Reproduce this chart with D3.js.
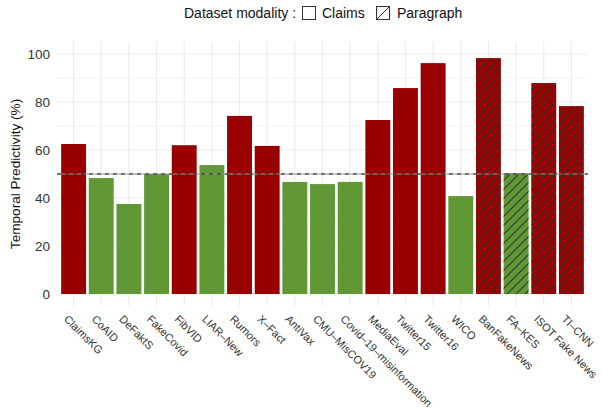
<!DOCTYPE html>
<html>
<head>
<meta charset="utf-8">
<script src="https://cdn.jsdelivr.net/npm/d3@7"></script>
<style>
  body { margin: 0; background: #fff; }
  text { font-family: "Liberation Sans", Arial, sans-serif; }
</style>
</head>
<body>
<div id="chart"></div>
<script>
// data
let datasets = ["ClaimsKG", "CoAID", "DeFaktS", "FakeCovid", "FibVID", "LIAR\u2013New", "Rumors", "X\u2013Fact",
    "AntiVax", "CMU\u2013MisCOV19", "Covid\u201319\u2013misinformation", "MediaEval", "Twitter15", "Twitter16",
    "WICO", "BanFakeNews", "FA\u2013KES", "ISOT Fake News", "TI\u2013CNN"];
let predictivity = [62.5, 48.3, 37.5, 50, 62, 53.7, 74.2, 61.7, 46.7, 45.8, 46.7, 72.5, 85.8, 96.2,
    40.8, 98.3, 50.3, 87.9, 78.3];
let aboveChance = [true, false, false, false, true, false, true, true, false, false, false, true, true, true,
    false, true, false, true, true];
let modality = ["Claims", "Claims", "Claims", "Claims", "Claims", "Claims", "Claims", "Claims", "Claims", "Claims",
    "Claims", "Claims", "Claims", "Claims", "Claims", "Paragraph", "Paragraph", "Paragraph", "Paragraph"];
let yTicks = [0, 20, 40, 60, 80, 100];
let yMinor = [10, 30, 50, 70, 90];
let chanceLevel = 50;

let width = 602, height = 411;
let margin = {top: 42, right: 14, bottom: 105, left: 57};

let data = datasets.map(function(d, i){
    return {name: d, value: predictivity[i], above: aboveChance[i], modality: modality[i]};
});

let svg = d3.select("#chart").append("svg")
    .attr("width", width)
    .attr("height", height);

// hatch pattern for the paragraph datasets
let defs = svg.append("defs");
defs.append("pattern")
    .attr("id", "hatch")
    .attr("patternUnits", "userSpaceOnUse")
    .attr("width", 9).attr("height", 9)
    .append("path")
    .attr("d", "M-1,1 l2,-2 M0,9 l9,-9 M8,10 l2,-2")
    .attr("stroke", "#333")
    .attr("stroke-width", 1.1);

let x = d3.scaleBand()
    .domain(datasets)
    .range([margin.left, width - margin.right])
    .paddingInner(0.1)
    .paddingOuter(0.15);

let y = d3.scaleLinear()
    .domain([-5, 105])
    .range([height - margin.bottom, margin.top]);

let color = function(d){ return d.above ? "#990000" : "#5f9834"; };

// grid
let grid = svg.append("g");
grid.selectAll(".minor").data(yMinor).enter().append("line")
    .attr("x1", margin.left).attr("x2", width - margin.right)
    .attr("y1", function(d){ return y(d); }).attr("y2", function(d){ return y(d); })
    .attr("stroke", "#f3f3f3").attr("stroke-width", 1);
grid.selectAll(".major").data(yTicks).enter().append("line")
    .attr("x1", margin.left).attr("x2", width - margin.right)
    .attr("y1", function(d){ return y(d); }).attr("y2", function(d){ return y(d); })
    .attr("stroke", "#ebebeb").attr("stroke-width", 1.1);
grid.selectAll(".vert").data(datasets).enter().append("line")
    .attr("x1", function(d){ return x(d) + x.bandwidth() / 2; })
    .attr("x2", function(d){ return x(d) + x.bandwidth() / 2; })
    .attr("y1", margin.top).attr("y2", height - margin.bottom)
    .attr("stroke", "#ebebeb").attr("stroke-width", 1.1);

// bars
svg.selectAll(".bar").data(data).enter().append("rect")
    .attr("x", function(d){ return x(d.name); })
    .attr("width", x.bandwidth())
    .attr("y", function(d){ return y(d.value); })
    .attr("height", function(d){ return y(0) - y(d.value); })
    .attr("fill", color);

svg.selectAll(".hatchbar").data(data.filter(function(d){ return d.modality === "Paragraph"; }))
    .enter().append("rect")
    .attr("x", function(d){ return x(d.name); })
    .attr("width", x.bandwidth())
    .attr("y", function(d){ return y(d.value); })
    .attr("height", function(d){ return y(0) - y(d.value); })
    .attr("fill", "url(#hatch)");

// chance line
svg.append("line")
    .attr("x1", margin.left).attr("x2", width - margin.right)
    .attr("y1", y(chanceLevel)).attr("y2", y(chanceLevel))
    .attr("stroke", "#999").attr("stroke-width", 1.2);
svg.append("line")
    .attr("x1", margin.left).attr("x2", width - margin.right)
    .attr("y1", y(chanceLevel)).attr("y2", y(chanceLevel))
    .attr("stroke", "#222").attr("stroke-width", 1.2)
    .attr("stroke-dasharray", "4,4");

// y axis
let yAxis = svg.append("g")
    .attr("transform", "translate(" + margin.left + ",0)")
    .call(d3.axisLeft(y).tickValues(yTicks).tickSize(0).tickPadding(7));
yAxis.select(".domain").remove();
yAxis.selectAll("text")
    .style("font-size", "13.5px")
    .attr("fill", "#333");

svg.append("text")
    .attr("transform", "translate(15," + ((margin.top + height - margin.bottom) / 2) + ") rotate(-90)")
    .attr("text-anchor", "middle")
    .attr("dy", "0.35em")
    .style("font-size", "13.6px")
    .attr("fill", "#111")
    .text("Temporal Predictivity (%)");

// x labels
svg.selectAll(".xlab").data(datasets).enter().append("text")
    .attr("transform", function(d){
        return "translate(" + (x(d) + x.bandwidth() / 2 - 4.5) + "," + (height - margin.bottom + 8) + ") rotate(45)";
    })
    .attr("text-anchor", "start")
    .attr("dy", "0.75em")
    .style("font-size", "11px")
    .attr("fill", "#333")
    .text(function(d){ return d; });

// legend
let legend = svg.append("g");
legend.append("text")
    .attr("x", 184).attr("y", 13)
    .attr("dy", "0.35em")
    .style("font-size", "14px")
    .attr("fill", "#111")
    .text("Dataset modality :");
legend.append("rect")
    .attr("x", 302.5).attr("y", 6.5).attr("width", 13).attr("height", 13)
    .attr("fill", "#fff").attr("stroke", "#333").attr("stroke-width", 1);
legend.append("text")
    .attr("x", 322).attr("y", 13)
    .attr("dy", "0.35em")
    .style("font-size", "14px")
    .attr("fill", "#111")
    .text("Claims");
legend.append("rect")
    .attr("x", 376.5).attr("y", 6.5).attr("width", 13).attr("height", 13)
    .attr("fill", "#fff").attr("stroke", "#333").attr("stroke-width", 1);
legend.append("line")
    .attr("x1", 376.5).attr("y1", 19.5).attr("x2", 389.5).attr("y2", 6.5)
    .attr("stroke", "#333").attr("stroke-width", 1);
legend.append("text")
    .attr("x", 397).attr("y", 13)
    .attr("dy", "0.35em")
    .style("font-size", "14px")
    .attr("fill", "#111")
    .text("Paragraph");
</script>
</body>
</html>
